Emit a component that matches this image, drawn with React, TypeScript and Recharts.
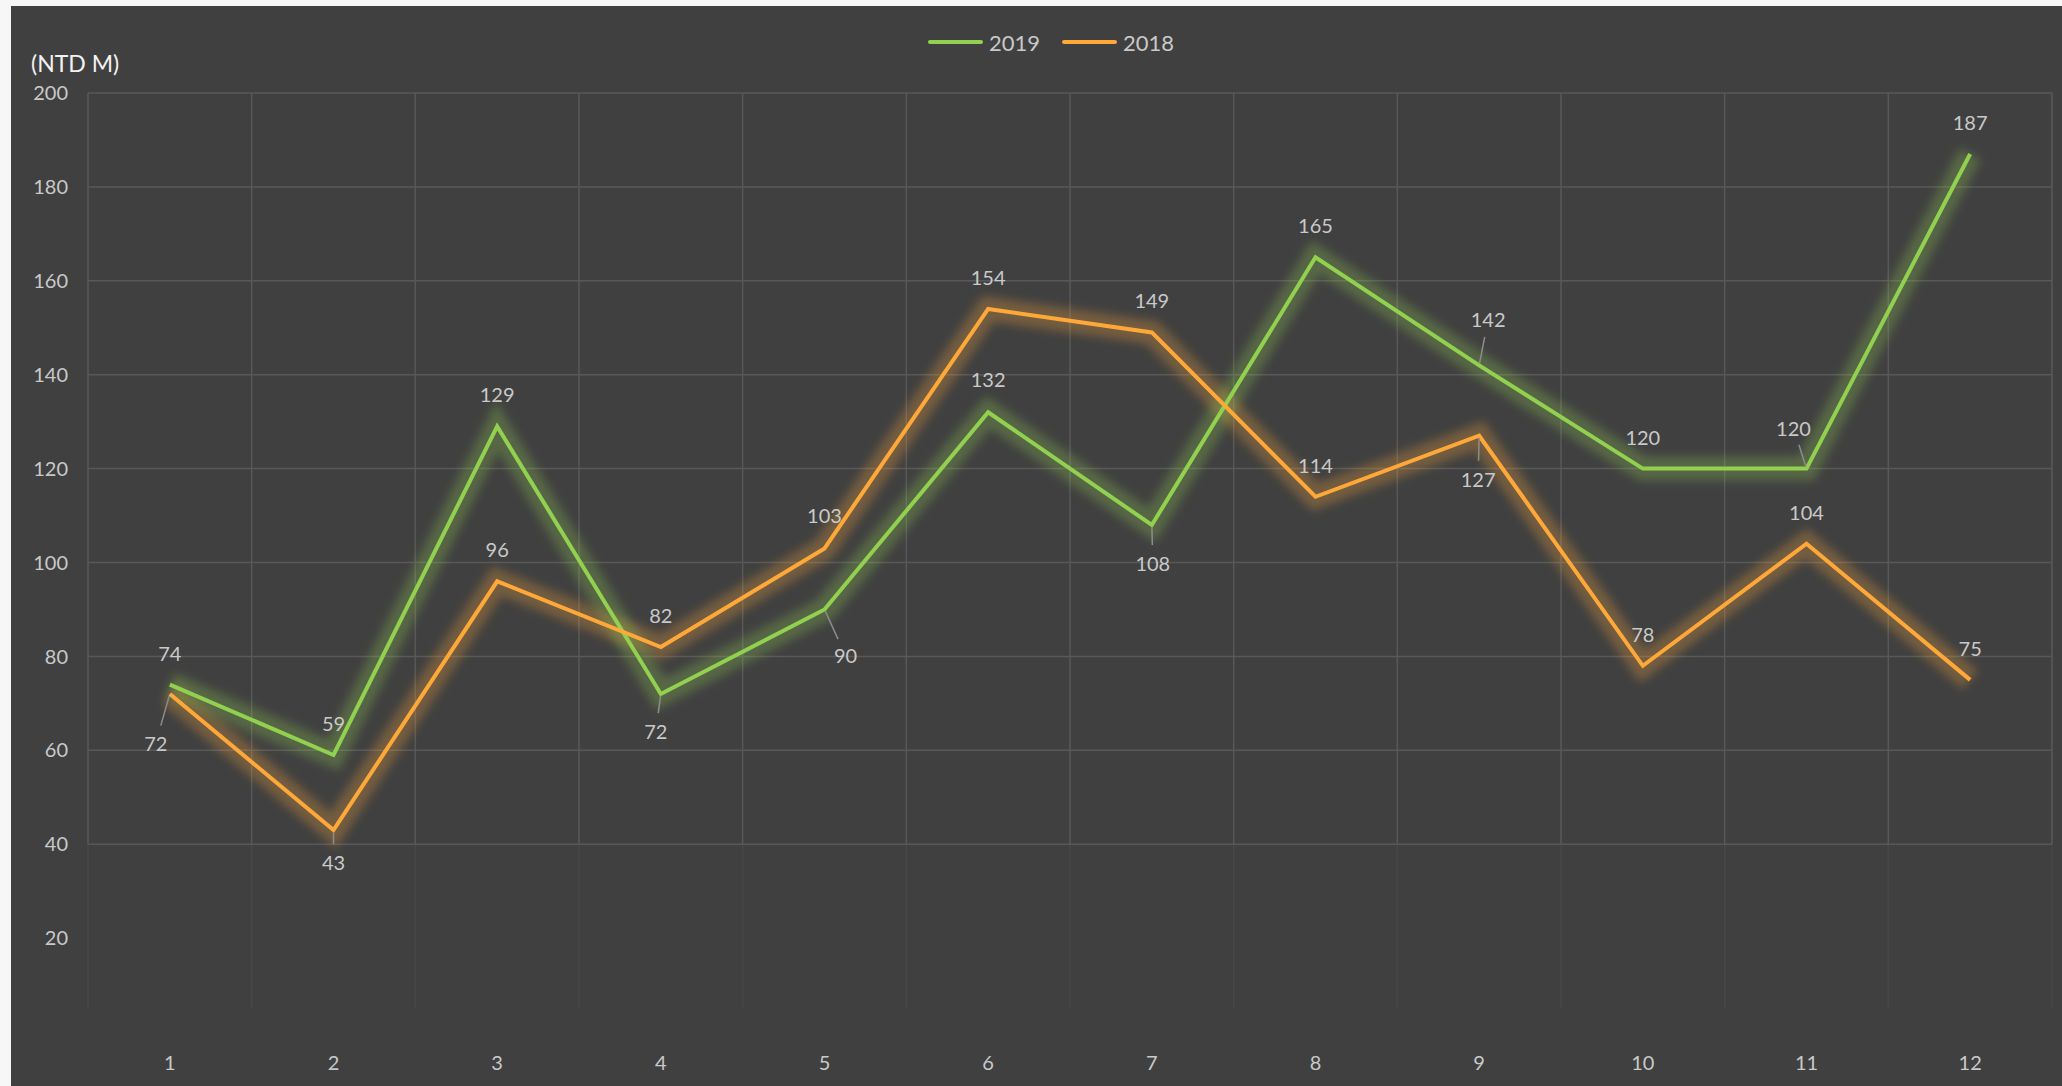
import { LineChart, Line, XAxis, YAxis, ReferenceLine, LabelList } from "recharts"

const months = [1, 2, 3, 4, 5, 6, 7, 8, 9, 10, 11, 12]
const sales2019 = [74, 59, 129, 72, 90, 132, 108, 165, 142, 120, 120, 187]
const sales2018 = [72, 43, 96, 82, 103, 154, 149, 114, 127, 78, 104, 75]
const yTicks = [20, 40, 60, 80, 100, 120, 140, 160, 180, 200]
const gridValues = [40, 60, 80, 100, 120, 140, 160, 180, 200]
const bandEdges = [0.5, 1.5, 2.5, 3.5, 4.5, 5.5, 6.5, 7.5, 8.5, 9.5, 10.5, 11.5, 12.5]

// label offsets from the point [dx, dy, leader line?]
const place2019: [number, number, boolean][] = [
  [0, -32, false], [0, -32, false], [0, -32, false], [-5, 37, true], [21, 46, true], [0, -33, false],
  [1, 38, true], [0, -32, false], [9, -46, true], [0, -32, false], [-13, -41, true], [0, -32, false],
]
const place2018: [number, number, boolean][] = [
  [-14, 49, true], [0, 32, true], [0, -32, false], [0, -32, false], [0, -33, false], [0, -32, false],
  [0, -32, false], [0, -32, false], [-1, 43, true], [0, -32, false], [0, -32, false], [0, -32, false],
]

const data = months.map((m, i) => ({ month: m, y2019: sales2019[i], y2018: sales2018[i] }))

const GREEN = "#92d050"
const ORANGE = "#ffa83a"
const GRID = "#585858"
const TEXT = "#c9c9c9"
const FONT = "Lato, 'Open Sans', sans-serif"

const makeLabel = (place: [number, number, boolean][]) => (props: any) => {
  const { x, y, value, index } = props
  const [dx, dy, lead] = place[index]
  const dist = Math.hypot(dx, dy)
  const ux = dx / dist
  const uy = dy / dist
  return (
    <g>
      {lead && (
        <line
          x1={x + ux * 2}
          y1={y + uy * 2}
          x2={x + ux * (dist - 18)}
          y2={y + uy * (dist - 18)}
          stroke="#8c8c8c"
          strokeWidth={1.5}
        />
      )}
      <text x={x + dx} y={y + dy} textAnchor="middle" dominantBaseline="central" fill={TEXT} fontSize={20} fontFamily={FONT}>
        {value}
      </text>
    </g>
  )
}

export default function App() {
  return (
    <div style={{ position: "fixed", left: 0, top: 0, width: 2062, height: 1086, background: "#f7f7f7", overflow: "hidden", fontFamily: FONT }}>
      <div style={{ position: "absolute", left: 11, top: 6, width: 2051, height: 1080, background: "#404040" }}>
        <LineChart width={2051} height={1080} data={data} margin={{ top: 87, right: 10, left: 0, bottom: 14 }}>
          <defs>
            <filter id="glow" x="-20%" y="-20%" width="140%" height="140%">
              <feGaussianBlur stdDeviation="5" />
            </filter>
          </defs>
          <XAxis
            dataKey="month"
            type="number"
            domain={[0.5, 12.5]}
            ticks={months}
            axisLine={false}
            tickLine={false}
            height={40}
            tickMargin={18}
            tick={{ fill: TEXT, fontSize: 20, fontFamily: FONT }}
          />
          <YAxis
            domain={[0, 200]}
            ticks={yTicks}
            axisLine={false}
            tickLine={false}
            width={77}
            tickMargin={14}
            tick={{ fill: TEXT, fontSize: 20, fontFamily: FONT }}
          />
          {gridValues.map((v) => (
            <ReferenceLine key={"h" + v} y={v} stroke={GRID} strokeWidth={1.5} />
          ))}
          {bandEdges.map((e) => (
            <ReferenceLine key={"v" + e} segment={[{ x: e, y: 40 }, { x: e, y: 200 }]} stroke={GRID} strokeWidth={1.5} />
          ))}
          {bandEdges.map((e) => (
            <ReferenceLine key={"f" + e} segment={[{ x: e, y: 5 }, { x: e, y: 40 }]} stroke={GRID} strokeOpacity={0.3} strokeWidth={1.5} />
          ))}
          <Line dataKey="y2018" stroke={ORANGE} strokeWidth={24} strokeOpacity={0.28} filter="url(#glow)" dot={false} activeDot={false} isAnimationActive={false} legendType="none" />
          <Line dataKey="y2019" stroke={GREEN} strokeWidth={24} strokeOpacity={0.28} filter="url(#glow)" dot={false} activeDot={false} isAnimationActive={false} legendType="none" />
          <Line dataKey="y2019" name="2019" stroke={GREEN} strokeWidth={4} dot={false} activeDot={false} isAnimationActive={false}>
            <LabelList dataKey="y2019" content={makeLabel(place2019)} />
          </Line>
          <Line dataKey="y2018" name="2018" stroke={ORANGE} strokeWidth={4} dot={false} activeDot={false} isAnimationActive={false}>
            <LabelList dataKey="y2018" content={makeLabel(place2018)} />
          </Line>
        </LineChart>
      </div>
      <div style={{ position: "absolute", left: 31, top: 46, color: "#f2f2f2", fontSize: 23, lineHeight: "34px" }}>(NTD M)</div>
      <div style={{ position: "absolute", left: 928, top: 28, height: 28, display: "flex", alignItems: "center", color: TEXT, fontSize: 22 }}>
        <span style={{ width: 55, height: 4, borderRadius: 2, background: GREEN, marginRight: 6 }} />
        <span>2019</span>
        <span style={{ width: 55, height: 4, borderRadius: 2, background: ORANGE, marginLeft: 22, marginRight: 6 }} />
        <span>2018</span>
      </div>
    </div>
  )
}
